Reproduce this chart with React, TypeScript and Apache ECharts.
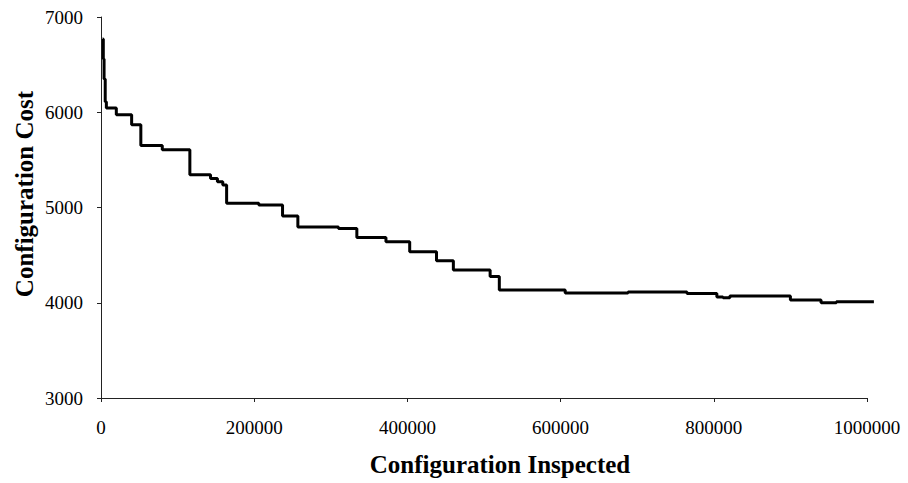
import React, { useEffect, useRef } from "react";
import * as echarts from "echarts";

// Configuration inspected (x) where the best cost changes, and the new cost (y)
const inspected = [2000, 3000, 4000, 5500, 7000, 20000, 40000, 52000, 80000, 116000, 143000, 152000, 159000, 164000, 206000, 237000, 257000, 310000, 334000, 372000, 403000, 438000, 460000, 508000, 520000, 606000, 688000, 765000, 804000, 812000, 821000, 900000, 940000, 960000, 1009000];
const cost = [6770, 6560, 6350, 6110, 6045, 5975, 5870, 5650, 5605, 5345, 5305, 5270, 5235, 5045, 5025, 4910, 4795, 4780, 4685, 4640, 4535, 4440, 4345, 4275, 4135, 4102, 4112, 4097, 4061, 4053, 4070, 4029, 4001, 4011, 4011];

const xTitle = "Configuration Inspected";
const yTitle = "Configuration Cost";

const FONT = "'Liberation Serif', 'Times New Roman', serif";

const X_MAX = 1000000;
const X_OVER = 1010000; // the line runs slightly past the last tick

export default function App() {
  const ref = useRef<HTMLDivElement>(null);
  useEffect(() => {
    if (!ref.current) return;
    const chart = echarts.init(ref.current, undefined, { renderer: "svg" });
    const data = inspected.map((x, i) => [x, cost[i]]);
    const left = 101;
    const right = 41;
    const plotW = 908 - left - right;
    const right2 = right - (plotW * (X_OVER - X_MAX)) / X_MAX;
    chart.setOption({
      animation: false,
      backgroundColor: "#ffffff",
      grid: [
        { left, right, top: 17, bottom: 85, containLabel: false },
        { left, right: right2, top: 17, bottom: 85, containLabel: false },
      ],
      xAxis: [
        {
          type: "value",
          gridIndex: 0,
          min: 0,
          max: X_MAX,
          interval: 200000,
          axisLine: { show: true, lineStyle: { color: "#222", width: 1 } },
          axisTick: { show: true, inside: false, length: 4, lineStyle: { color: "#222" } },
          splitLine: { show: false },
          axisLabel: { color: "#000", fontFamily: FONT, fontSize: 19, margin: 20, formatter: (v: number) => String(v) },
        },
        {
          type: "value",
          gridIndex: 1,
          min: 0,
          max: X_OVER,
          show: false,
        },
      ],
      yAxis: [
        {
          type: "value",
          gridIndex: 0,
          min: 3000,
          max: 7000,
          interval: 1000,
          axisLine: { show: true, lineStyle: { color: "#222", width: 1 } },
          axisTick: { show: true, inside: false, length: 4, lineStyle: { color: "#222" } },
          splitLine: { show: false },
          axisLabel: { color: "#000", fontFamily: FONT, fontSize: 19, margin: 18, formatter: (v: number) => String(v) },
        },
        {
          type: "value",
          gridIndex: 1,
          min: 3000,
          max: 7000,
          show: false,
        },
      ],
      graphic: [
        {
          type: "text",
          x: 500,
          y: 464,
          style: {
            text: xTitle,
            fontFamily: FONT,
            fontSize: 25,
            fontWeight: "bold",
            fill: "#000",
            align: "center",
            verticalAlign: "middle",
          },
        },
        {
          type: "text",
          x: 24,
          y: 194,
          rotation: Math.PI / 2,
          style: {
            text: yTitle,
            fontFamily: FONT,
            fontSize: 25,
            fontWeight: "bold",
            fill: "#000",
            align: "center",
            verticalAlign: "middle",
          },
        },
      ],
      series: [
        {
          type: "line",
          xAxisIndex: 1,
          yAxisIndex: 1,
          data,
          step: "end",
          symbol: "none",
          clip: false,
          lineStyle: { color: "#000", width: 3 },
        },
      ],
    });
    return () => chart.dispose();
  }, []);
  return (
    <div
      ref={ref}
      style={{ position: "fixed", left: 0, top: 0, width: 908, height: 483, background: "#fff" }}
    />
  );
}
